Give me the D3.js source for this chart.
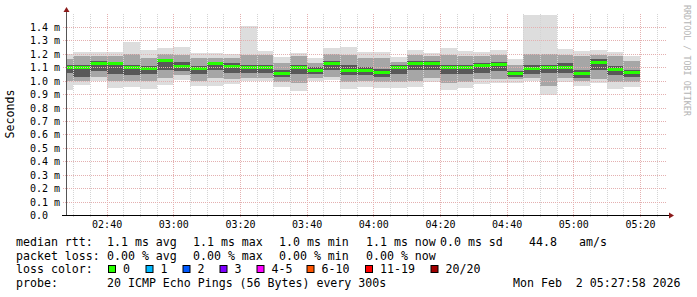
<!DOCTYPE html>
<html lang="en">
<head>
<meta charset="utf-8">
<title>smokeping median rtt</title>
<script src="https://cdn.jsdelivr.net/npm/d3@7"></script>
<style>
  body { margin: 0; background: #fff; }
  text { font-family: "DejaVu Sans Mono", monospace; fill: #000; }
</style>
</head>
<body>
<script>
// one column per 5 minute step, first end time 02:30 UTC
var step = 300;
var firstEnd = Date.UTC(2026, 1, 2, 2, 30, 0);
var tStart = new Date(Date.UTC(2026, 1, 2, 2, 27, 58));
var tEnd = new Date(Date.UTC(2026, 1, 2, 5, 27, 58));

// values in ms
var median = [1.101, 1.101, 1.131, 1.126, 1.099, 1.087, 1.149, 1.106, 1.087, 1.131,
              1.106, 1.099, 1.097, 1.057, 1.097, 1.074, 1.126, 1.077, 1.077, 1.062,
              1.101, 1.131, 1.126, 1.099, 1.099, 1.112, 1.117, 1.052, 1.092, 1.101,
              1.101, 1.050, 1.136, 1.084, 1.059];
var pingMax = [1.201, 1.213, 1.213, 1.213, 1.288, 1.231, 1.243, 1.251, 1.208, 1.208,
               1.201, 1.405, 1.221, 1.176, 1.206, 1.169, 1.243, 1.251, 1.213, 1.211,
               1.176, 1.231, 1.206, 1.243, 1.221, 1.211, 1.226, 1.161, 1.490, 1.490,
               1.233, 1.218, 1.226, 1.211, 1.186];
var pingMin = [0.928, 0.965, 0.997, 0.945, 0.952, 0.935, 0.965, 1.007, 0.957, 0.957,
               0.972, 0.997, 0.997, 0.952, 0.920, 0.997, 1.007, 0.935, 0.952, 0.945,
               0.945, 0.952, 0.990, 0.928, 0.945, 0.977, 0.982, 0.982, 0.997, 0.895,
               0.990, 0.960, 0.982, 0.935, 0.952];
// mid smoke band
var midHi = [1.16, 1.18, 1.18, 1.18, 1.20, 1.17, 1.20, 1.19, 1.17, 1.17,
             1.17, 1.19, 1.19, 1.13, 1.18, 1.13, 1.20, 1.19, 1.17, 1.17,
             1.14, 1.19, 1.18, 1.19, 1.18, 1.18, 1.19, 1.12, 1.20, 1.20,
             1.19, 1.18, 1.19, 1.18, 1.15];
var midLo = [1.00, 1.00, 1.03, 1.00, 1.00, 1.00, 1.02, 1.04, 1.00, 1.02,
             1.01, 1.02, 1.02, 0.99, 0.98, 1.02, 1.03, 0.99, 1.00, 0.99,
             0.99, 1.00, 1.02, 0.98, 0.99, 1.01, 1.01, 1.01, 1.02, 0.96,
             1.02, 1.00, 1.01, 0.99, 0.99];
// dark core
var coreHi = [1.12, 1.12, 1.15, 1.14, 1.12, 1.11, 1.16, 1.14, 1.11, 1.14,
              1.13, 1.12, 1.12, 1.08, 1.12, 1.10, 1.15, 1.12, 1.10, 1.09,
              1.12, 1.15, 1.15, 1.12, 1.12, 1.13, 1.14, 1.07, 1.12, 1.12,
              1.13, 1.08, 1.16, 1.11, 1.08];
var coreLo = [1.06, 1.03, 1.07, 1.05, 1.04, 1.05, 1.08, 1.07, 1.05, 1.08,
              1.06, 1.06, 1.06, 1.03, 1.05, 1.05, 1.08, 1.04, 1.04, 1.03,
              1.05, 1.08, 1.08, 1.05, 1.05, 1.06, 1.07, 1.03, 1.05, 1.06,
              1.06, 1.02, 1.08, 1.04, 1.03];

var yTicks = [0.0, 0.1, 0.2, 0.3, 0.4, 0.5, 0.6, 0.7, 0.8, 0.9, 1.0, 1.1, 1.2, 1.3, 1.4];

var lossLabels = ["0", "1", "2", "3", "4-5", "6-10", "11-19", "20/20"];
var lossColors = ["#26ff00", "#00b8ff", "#0059ff", "#7e00ff", "#ff00ff", "#ff5500", "#ff0000", "#a10000"];

var w = 697, h = 297;
var plotL = 66.5, plotR = 666.5, plotB = 215, plotT = 13.5;

var svg = d3.select("body").append("svg")
  .attr("width", w).attr("height", h);

var xScale = d3.scaleUtc().domain([tStart, tEnd]).range([plotL, plotR]);
var yScale = d3.scaleLinear().domain([0, 1.5]).range([plotB, plotT]);

svg.append("clipPath").attr("id", "plot")
  .append("rect").attr("x", plotL).attr("y", plotT).attr("width", plotR - plotL).attr("height", plotB - plotT);

var cols = median.map(function(m, i) {
  var end = new Date(firstEnd + i * step * 1000);
  return {
    start: new Date(end.getTime() - step * 1000), end: end, median: m,
    min: pingMin[i], max: pingMax[i], midLo: midLo[i], midHi: midHi[i],
    coreLo: coreLo[i], coreHi: coreHi[i]
  };
});

var g = svg.append("g").attr("clip-path", "url(#plot)").attr("shape-rendering", "crispEdges");

function band(lo, hi, color) {
  g.selectAll(null).data(cols).enter().append("rect")
    .attr("x", function(d) { return xScale(d.start); })
    .attr("width", function(d) { return xScale(d.end) - xScale(d.start); })
    .attr("y", function(d) { return yScale(d[hi]); })
    .attr("height", function(d) { return yScale(d[lo]) - yScale(d[hi]); })
    .attr("fill", color);
}
band("min", "max", "#dddddd");
band("midLo", "midHi", "#a6a6a6");
band("coreLo", "coreHi", "#585858");

// median line
g.selectAll(null).data(cols).enter().append("rect")
  .attr("x", function(d) { return xScale(d.start); })
  .attr("width", function(d) { return xScale(d.end) - xScale(d.start); })
  .attr("y", function(d) { return yScale(d.median) - 1.5; })
  .attr("height", 3)
  .attr("fill", lossColors[0]);

// grid
var grid = svg.append("g").attr("shape-rendering", "crispEdges");
var minor = xScale.ticks(d3.utcMinute.every(5));
grid.selectAll(null).data(minor).enter().append("line")
  .attr("x1", function(d) { return Math.round(xScale(d)) + 0.5; })
  .attr("x2", function(d) { return Math.round(xScale(d)) + 0.5; })
  .attr("y1", plotT).attr("y2", plotB + 2)
  .attr("stroke", function(d) { return d.getUTCMinutes() % 20 == 0 ? "#e4b0b0" : "#d4d4d4"; })
  .attr("stroke-dasharray", "1,1");
grid.selectAll(null).data(yTicks.slice(1)).enter().append("line")
  .attr("x1", plotL - 4).attr("x2", plotR)
  .attr("y1", function(d) { return Math.round(yScale(d)) + 0.5; })
  .attr("y2", function(d) { return Math.round(yScale(d)) + 0.5; })
  .attr("stroke", "#e4b0b0")
  .attr("stroke-dasharray", "1,1");

// axes
svg.append("line").attr("x1", plotL).attr("x2", plotL).attr("y1", plotB).attr("y2", 9)
  .attr("stroke", "#555");
svg.append("line").attr("x1", 62).attr("x2", 670).attr("y1", plotB + 0.5).attr("y2", plotB + 0.5)
  .attr("stroke", "#000");
svg.append("path").attr("d", "M63.5,12L66.5,7L69.5,12Z").attr("fill", "#8b1a1a");
svg.append("path").attr("d", "M669,212.5L674,215.5L669,218.5Z").attr("fill", "#8b1a1a");

var yAxis = d3.axisLeft(yScale).tickValues(yTicks).tickSize(0)
  .tickFormat(function(d) { return d == 0 ? "0.0" : d3.format(".1f")(d) + " m"; });
svg.append("g").attr("transform", "translate(30,0)").call(yAxis)
  .call(function(s) { s.select(".domain").remove(); })
  .selectAll("text").attr("text-anchor", "start").attr("x", 0).attr("dy", "0.35em")
  .style("font-size", "10px").style("font-family", "DejaVu Sans Mono");

var xAxis = d3.axisBottom(xScale).ticks(d3.utcMinute.every(20)).tickSize(0)
  .tickFormat(d3.utcFormat("%H:%M"));
svg.append("g").attr("transform", "translate(0," + 221 + ")").call(xAxis)
  .call(function(s) { s.select(".domain").remove(); })
  .selectAll("text").attr("y", 0).attr("dy", "0.72em")
  .style("font-size", "10px").style("font-family", "DejaVu Sans Mono");

// y title
svg.append("text").attr("transform", "translate(14,114) rotate(-90)")
  .attr("text-anchor", "middle").style("font-size", "11.6px").text("Seconds");

// watermark
svg.append("text").attr("transform", "translate(683.5,5) rotate(90)")
  .style("font-size", "8.4px").style("fill", "#b4b4b4").text("RRDTOOL / TOBI OETIKER");

// legend
var lf = "11.6px";
var rows = [
  [[16, "median rtt:"], [107, "1.1 ms avg"], [193, "1.1 ms max"], [279, "1.0 ms min"],
   [366, "1.1 ms now"], [440, "0.0 ms sd"], [529, "44.8"], [579, "am/s"]],
  [[16, "packet loss:"], [107, "0.00 % avg"], [193, "0.00 % max"], [279, "0.00 % min"], [366, "0.00 % now"]],
  [[16, "loss color:"]],
  [[16, "probe:"], [107, "20 ICMP Echo Pings (56 Bytes) every 300s"], [513, "Mon Feb  2 05:27:58 2026"]]
];
var baselines = [246, 259.5, 273.2, 287];
rows.forEach(function(r, i) {
  r.forEach(function(c) {
    svg.append("text").attr("x", c[0]).attr("y", baselines[i])
      .style("font-size", lf).style("white-space", "pre").text(c[1]);
  });
});
var boxX = [108, 145.5, 182.5, 219.5, 256.5, 306.5, 365, 430.5];
lossLabels.forEach(function(l, i) {
  svg.append("rect").attr("x", boxX[i] + 0.5).attr("y", 265.5).attr("width", 7).attr("height", 7)
    .attr("fill", lossColors[i]).attr("stroke", "#000").attr("stroke-width", 1);
  svg.append("text").attr("x", boxX[i] + 15).attr("y", baselines[2])
    .style("font-size", lf).text(l);
});
</script>
</body>
</html>
